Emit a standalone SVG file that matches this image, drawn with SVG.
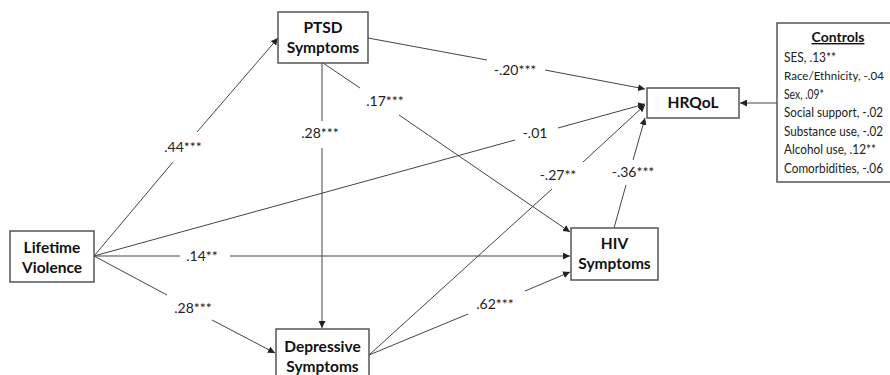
<svg xmlns="http://www.w3.org/2000/svg" width="890" height="375" viewBox="0 0 890 375">
<style>
.box{fill:#fff;stroke:#555;stroke-width:1.5}
.nt{font-family:Lato,"Open Sans",sans-serif;font-weight:bold;font-size:15.5px;fill:#111;text-anchor:middle}
.lb{font-family:Lato,"Open Sans",sans-serif;font-size:14px;fill:#222;text-anchor:middle}
.ct{font-family:Lato,"Open Sans",sans-serif;font-size:12.5px;fill:#222}
.edge{fill:none;stroke:#444;stroke-width:1;marker-end:url(#ah)}
</style>
<defs>
<marker id="ah" viewBox="0 0 10 10" refX="10" refY="5" markerWidth="7" markerHeight="7" markerUnits="userSpaceOnUse" orient="auto">
<path d="M0,0 L10,5 L0,10 z" fill="#222"/>
</marker>
</defs>
<rect width="890" height="375" fill="#fff"/>
<g id="connectors">
<path class="edge" d="M94,256 L173,162 M197,132 L278,38"/>
<path class="edge" d="M94,256 L515,140 M558,128 L645,104"/>
<path class="edge" d="M94,256 L180,256 M230,256 L570,256"/>
<path class="edge" d="M94,256 L167,295 M212,320 L275,353"/>
<path class="edge" d="M322,63 L322,121 M322,148 L322,328"/>
<path class="edge" d="M323,63 L360,88 M399,115 L570,232"/>
<path class="edge" d="M368,38 L487,60 M545,70 L645,89"/>
<path class="edge" d="M369,355 L552,189 M583,162 L645,105"/>
<path class="edge" d="M369,355 L468,314 M525,291 L570,272"/>
<path class="edge" d="M614,228 L626,185 M633,160 L645,118"/>
<path class="edge" d="M777,103 L740,103"/>
</g>
<g id="labels">
<text class="lb" x="183" y="152">.44***</text>
<text class="lb" x="320" y="138">.28***</text>
<text class="lb" x="385" y="106">.17***</text>
<text class="lb" x="515" y="75">-.20***</text>
<text class="lb" x="535" y="138">-.01</text>
<text class="lb" x="558" y="180">-.27**</text>
<text class="lb" x="633" y="177">-.36***</text>
<text class="lb" x="202" y="261">.14**</text>
<text class="lb" x="193" y="313">.28***</text>
<text class="lb" x="495" y="309">.62***</text>
</g>
<g id="ptsd">
<rect class="box" x="278" y="12" width="90" height="51"/>
<text class="nt" x="323" y="33">PTSD</text>
<text class="nt" x="323" y="53">Symptoms</text>
</g>
<g id="hrqol">
<rect class="box" x="647" y="88" width="92" height="30"/>
<text class="nt" x="693" y="108">HRQoL</text>
</g>
<g id="controls">
<rect class="box" x="777" y="23" width="120" height="159"/>
<text class="nt" x="838" y="42" style="text-decoration:underline;font-size:14px">Controls</text>
<text class="ct" x="784" y="61.5" textLength="52" lengthAdjust="spacingAndGlyphs">SES, .13**</text>
<text class="ct" x="784" y="80" textLength="100" lengthAdjust="spacingAndGlyphs" style="font-size:12px">Race/Ethnicity, -.04</text>
<text class="ct" x="784" y="98.5" textLength="40" lengthAdjust="spacingAndGlyphs">Sex, .09*</text>
<text class="ct" x="784" y="117" textLength="99" lengthAdjust="spacingAndGlyphs">Social support, -.02</text>
<text class="ct" x="784" y="135.5" textLength="99" lengthAdjust="spacingAndGlyphs">Substance use, -.02</text>
<text class="ct" x="784" y="154" textLength="92" lengthAdjust="spacingAndGlyphs">Alcohol use, .12**</text>
<text class="ct" x="784" y="172.5" textLength="99" lengthAdjust="spacingAndGlyphs">Comorbidities, -.06</text>
</g>
<g id="lifetime">
<rect class="box" x="10" y="231" width="84" height="51"/>
<text class="nt" x="52" y="253">Lifetime</text>
<text class="nt" x="52" y="273">Violence</text>
</g>
<g id="hiv">
<rect class="box" x="571" y="228" width="87" height="52"/>
<text class="nt" x="614.5" y="249">HIV</text>
<text class="nt" x="614.5" y="269">Symptoms</text>
</g>
<g id="depressive">
<rect class="box" x="276" y="329" width="93" height="50"/>
<text class="nt" x="322.5" y="352">Depressive</text>
<text class="nt" x="322.5" y="372">Symptoms</text>
</g>
</svg>
